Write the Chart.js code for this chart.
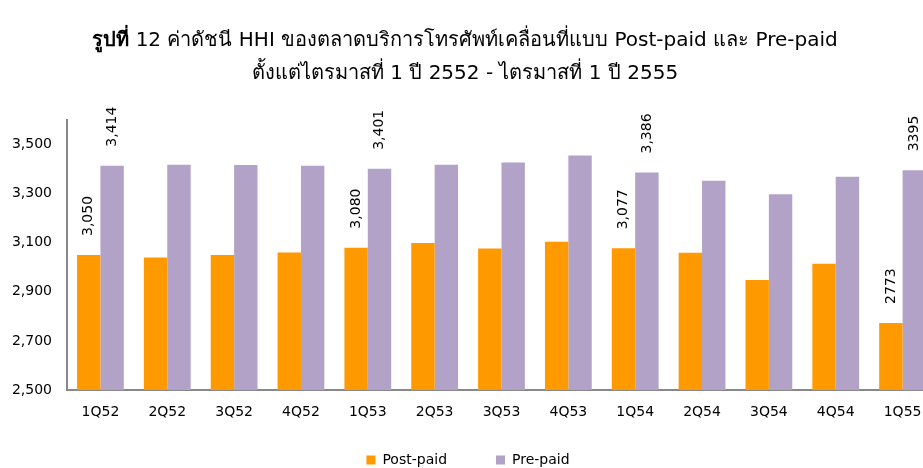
<!DOCTYPE html>
<html>
<head>
<meta charset="utf-8">
<script src="https://cdn.jsdelivr.net/npm/chart.js@4"></script>
<style>
  html, body { margin: 0; padding: 0; overflow: hidden; background: #fff; }
  #wrap { position: relative; width: 936px; height: 468px; overflow: hidden; }
  #title { position: absolute; left: 0; top: 0; width: 930px; text-align: center;
    font-family: "DejaVu Sans", sans-serif; font-size: 20px; color: #000; line-height: 33px; padding-top: 23px; }
  #title b { font-weight: bold; }
  canvas { position: absolute; left: 0; top: 0; }
</style>
</head>
<body>
<div id="wrap">
  <canvas id="c" width="936" height="468"></canvas>
  <div id="title"><b>รูปที่</b> 12 ค่าดัชนี HHI ของตลาดบริการโทรศัพท์เคลื่อนที่แบบ Post-paid และ Pre-paid<br>ตั้งแต่ไตรมาสที่ 1 ปี 2552 - ไตรมาสที่ 1 ปี 2555</div>
</div>
<script>
const categories = ['1Q52','2Q52','3Q52','4Q52','1Q53','2Q53','3Q53','4Q53','1Q54','2Q54','3Q54','4Q54','1Q55'];
const postPaid = [3050, 3040, 3050, 3060, 3080, 3099, 3076, 3104, 3077, 3059, 2948, 3014, 2773];
const prePaid  = [3414, 3418, 3417, 3414, 3401, 3418, 3427, 3455, 3386, 3353, 3297, 3369, 3395];
const postLabels = ['3,050','','','','3,080','','','','3,077','','','','2773'];
const preLabels  = ['3,414','','','','3,401','','','','3,386','','','','3395'];
const yTicks = [2500, 2700, 2900, 3100, 3300, 3500];

const labelPlugin = {
  id: 'rotLabels',
  afterDatasetsDraw(chart) {
    const ctx = chart.ctx;
    const sets = [postLabels, preLabels];
    sets.forEach((labels, i) => {
      const meta = chart.getDatasetMeta(i);
      meta.data.forEach((el, j) => {
        if (!labels[j]) return;
        ctx.save();
        ctx.translate(el.x, el.y - 19);
        ctx.rotate(-Math.PI / 2);
        ctx.font = '14px "DejaVu Sans", sans-serif';
        ctx.fillStyle = '#000';
        ctx.textAlign = 'left';
        ctx.textBaseline = 'middle';
        ctx.fillText(labels[j], 0, 0);
        ctx.restore();
      });
    });
  }
};

// keep the legend low and compact while leaving a wide gap between items
const legendPlace = {
  id: 'legendPlace',
  beforeLayout(chart) {
    const lg = chart.legend;
    if (lg && !lg.__patched) {
      const orig = lg.fit;
      lg.fit = function () { orig.call(this); this.height = 44; };
      lg.__patched = true;
    }
  },
  afterLayout(chart) {
    const lg = chart.legend;
    if (lg) { lg.top = 404; lg.bottom = 468; }
  }
};

new Chart(document.getElementById('c'), {
  type: 'bar',
  data: {
    labels: categories,
    datasets: [
      { label: 'Post-paid', data: postPaid, backgroundColor: '#FF9900', borderWidth: 0 },
      { label: 'Pre-paid', data: prePaid, backgroundColor: '#B3A2C7', borderWidth: 0 }
    ]
  },
  options: {
    responsive: false,
    animation: false,
    devicePixelRatio: 1,
    layout: { padding: { top: 120, left: 0, right: 0, bottom: 0 } },
    plugins: {
      title: { display: false },
      tooltip: { enabled: false },
      legend: {
        position: 'bottom',
        labels: { boxWidth: 9, boxHeight: 9, padding: 49, color: '#000',
          font: { family: '"DejaVu Sans", sans-serif', size: 14 } }
      }
    },
    datasets: { bar: { categoryPercentage: 0.7, barPercentage: 1.0 } },
    scales: {
      x: {
        grid: { display: false, drawTicks: false },
        border: { display: true, color: '#888', width: 2 },
        ticks: { color: '#000', padding: 14, maxRotation: 0, autoSkip: false,
          font: { family: '"DejaVu Sans", sans-serif', size: 14 } },
        afterFit(s) { s.height = 34; }
      },
      y: {
        min: 2500, max: 3600,
        grid: { display: false, drawTicks: false },
        border: { display: true, color: '#888', width: 2 },
        afterBuildTicks(s) { s.ticks = yTicks.map(v => ({ value: v })); },
        ticks: { color: '#000', padding: 15,
          callback: v => v.toLocaleString('en-US'),
          font: { family: '"DejaVu Sans", sans-serif', size: 14 } },
        afterFit(s) { s.width = 67; }
      }
    }
  },
  plugins: [labelPlugin, legendPlace]
});
</script>
</body>
</html>
